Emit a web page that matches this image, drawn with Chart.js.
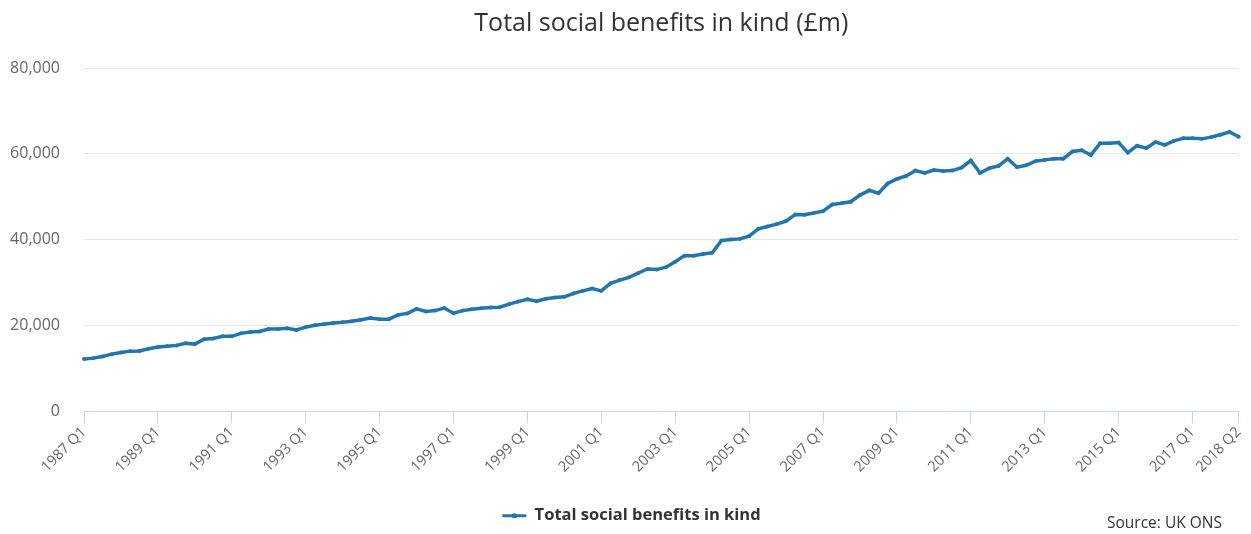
<!DOCTYPE html>
<html>
<head>
<meta charset="utf-8">
<script src="https://cdn.jsdelivr.net/npm/chart.js@4/dist/chart.umd.min.js"></script>
<style>
    html, body { margin: 0; padding: 0; background: #fff; }
    #wrap { position: relative; width: 1251px; height: 534px; }
    #source {
        position: absolute;
        left: 1107px;
        top: 511px;
        font: 15.5px "Open Sans", sans-serif;
        color: #333;
        white-space: nowrap;
    }
</style>
</head>
<body>
<div id="wrap">
    <canvas id="benefits-chart" width="1251" height="534"></canvas>
    <div id="source">Source: UK ONS</div>
</div>
<script>
// Quarter labels, 1987 Q1 .. 2018 Q2
const firstYear = 1987;
const quarterLabels = [];
for (let y = firstYear; y <= 2018; y++) {
    for (let q = 1; q <= 4; q++) {
        if (y === 2018 && q > 2) break;
        quarterLabels.push(`${y} Q${q}`);
    }
}

// Total social benefits in kind (£m)
const benefits1987to1997 = [
    12200, 12430, 12800, 13360, 13750, 14060, 14100, 14600, 15000, 15200,
    15400, 15900, 15700, 16850, 17000, 17500, 17500, 18200, 18500, 18650,
    19200, 19200, 19400, 19000, 19650, 20100, 20350, 20600, 20800, 21000,
    21350, 21750, 21500, 21500, 22500, 22850, 23900, 23300, 23500, 24100,
    22900, 23500, 23800
];
const benefits1997to2006 = [
    24050, 24200, 24300, 25000, 25600, 26150, 25700, 26250, 26550, 26700,
    27500, 28100, 28650, 28100, 29850, 30600, 31250, 32250, 33200, 33050,
    33600, 34900, 36300, 36300, 36700, 36950, 39800, 40050, 40200, 40850,
    42550, 43100, 43650, 44350, 45900, 45850, 46250
];
const benefits2007to2018 = [
    46650, 48200, 48500, 48850, 50400, 51500, 50850, 53100, 54150, 54850,
    56100, 55550, 56250, 56000, 56100, 56800, 58450, 55550, 56650, 57200,
    58850, 56900, 57350, 58300, 58600, 58850, 58850, 60550, 60850, 59750,
    62500, 62500, 62650, 60300, 61900, 61350, 62750, 62100, 63050, 63650,
    63650, 63500, 63900, 64450, 65100, 64000
];
const socialBenefits = [...benefits1987to1997, ...benefits1997to2006, ...benefits2007to2018];

// Axis settings
const yTickValues = [0, 20000, 40000, 60000, 80000];
const xLabelStep = 8; // one label every two years

const lastIdx = quarterLabels.length - 1;
const showXTick = (i) => i % xLabelStep === 0 || i === lastIdx;

const fontFamily = '"Open Sans", sans-serif';
const lineBlue = '#2275ad';

// Nudge the legend a bit right and put a small dot in the middle of its line
const legendTweaks = {
    id: 'legendTweaks',
    afterLayout(chart) {
        const legend = chart.legend;
        if (!legend) return;
        legend.left += 12;
        legend.right += 12;
    },
    afterDraw(chart) {
        const legend = chart.legend;
        if (!legend || !legend.legendHitBoxes || !legend.legendHitBoxes.length) return;
        const box = legend.legendHitBoxes[0];
        const bw = legend.options.labels.boxWidth;
        const c = chart.ctx;
        c.save();
        c.fillStyle = lineBlue;
        c.beginPath();
        c.arc(box.left + bw / 2, box.top + box.height / 2, 2.5, 0, Math.PI * 2);
        c.fill();
        c.restore();
    }
};

const ctx = document.getElementById('benefits-chart').getContext('2d');
new Chart(ctx, {
    type: 'line',
    data: {
        labels: quarterLabels,
        datasets: [{
            label: 'Total social benefits in kind',
            data: socialBenefits,
            borderColor: lineBlue,
            backgroundColor: lineBlue,
            borderWidth: 3.5,
            pointRadius: 2,
            pointBorderWidth: 0,
            pointHoverRadius: 3,
            tension: 0,
            fill: false
        }]
    },
    options: {
        responsive: false,
        animation: false,
        layout: {
            padding: { left: 0, right: 12, top: 0, bottom: 0 }
        },
        plugins: {
            title: {
                display: true,
                text: 'Total social benefits in kind (£m)',
                fullSize: false,
                color: '#333',
                font: { family: fontFamily, size: 25, weight: 'normal' },
                padding: { top: 9, bottom: 29 }
            },
            legend: {
                display: true,
                position: 'bottom',
                labels: {
                    boxWidth: 24,
                    boxHeight: 3,
                    color: '#333',
                    font: { family: fontFamily, size: 16.5, weight: 'bold' },
                    padding: 10,
                    generateLabels: (chart) =>
                        Chart.defaults.plugins.legend.labels.generateLabels(chart).map(item => ({
                            ...item,
                            fillStyle: lineBlue,
                            lineWidth: 0
                        }))
                }
            },
            tooltip: { enabled: false }
        },
        scales: {
            x: {
                offset: false,
                border: { display: true, color: '#ccd6eb', width: 1 },
                grid: {
                    display: true,
                    drawOnChartArea: false,
                    drawTicks: true,
                    tickLength: 12,
                    color: (c) => showXTick(c.index) ? '#ccd6eb' : 'rgba(0,0,0,0)'
                },
                ticks: {
                    autoSkip: false,
                    minRotation: 45,
                    maxRotation: 45,
                    color: '#666',
                    padding: 0,
                    font: { family: fontFamily, size: 14.5 },
                    callback: function (val, i) {
                        return showXTick(i) ? quarterLabels[i] : '';
                    }
                },
                afterFit: (axis) => { axis.height = 86; }
            },
            y: {
                min: yTickValues[0],
                max: yTickValues[yTickValues.length - 1],
                border: { display: false },
                grid: { color: '#e6e6e6', drawTicks: false },
                afterBuildTicks: (axis) => {
                    axis.ticks = yTickValues.map(v => ({ value: v }));
                },
                afterFit: (axis) => { axis.width = 84; },
                ticks: {
                    color: '#666',
                    padding: 24,
                    font: { family: fontFamily, size: 16 },
                    callback: (v) => v.toLocaleString('en-GB')
                }
            }
        }
    },
    plugins: [legendTweaks]
});
</script>
</body>
</html>
